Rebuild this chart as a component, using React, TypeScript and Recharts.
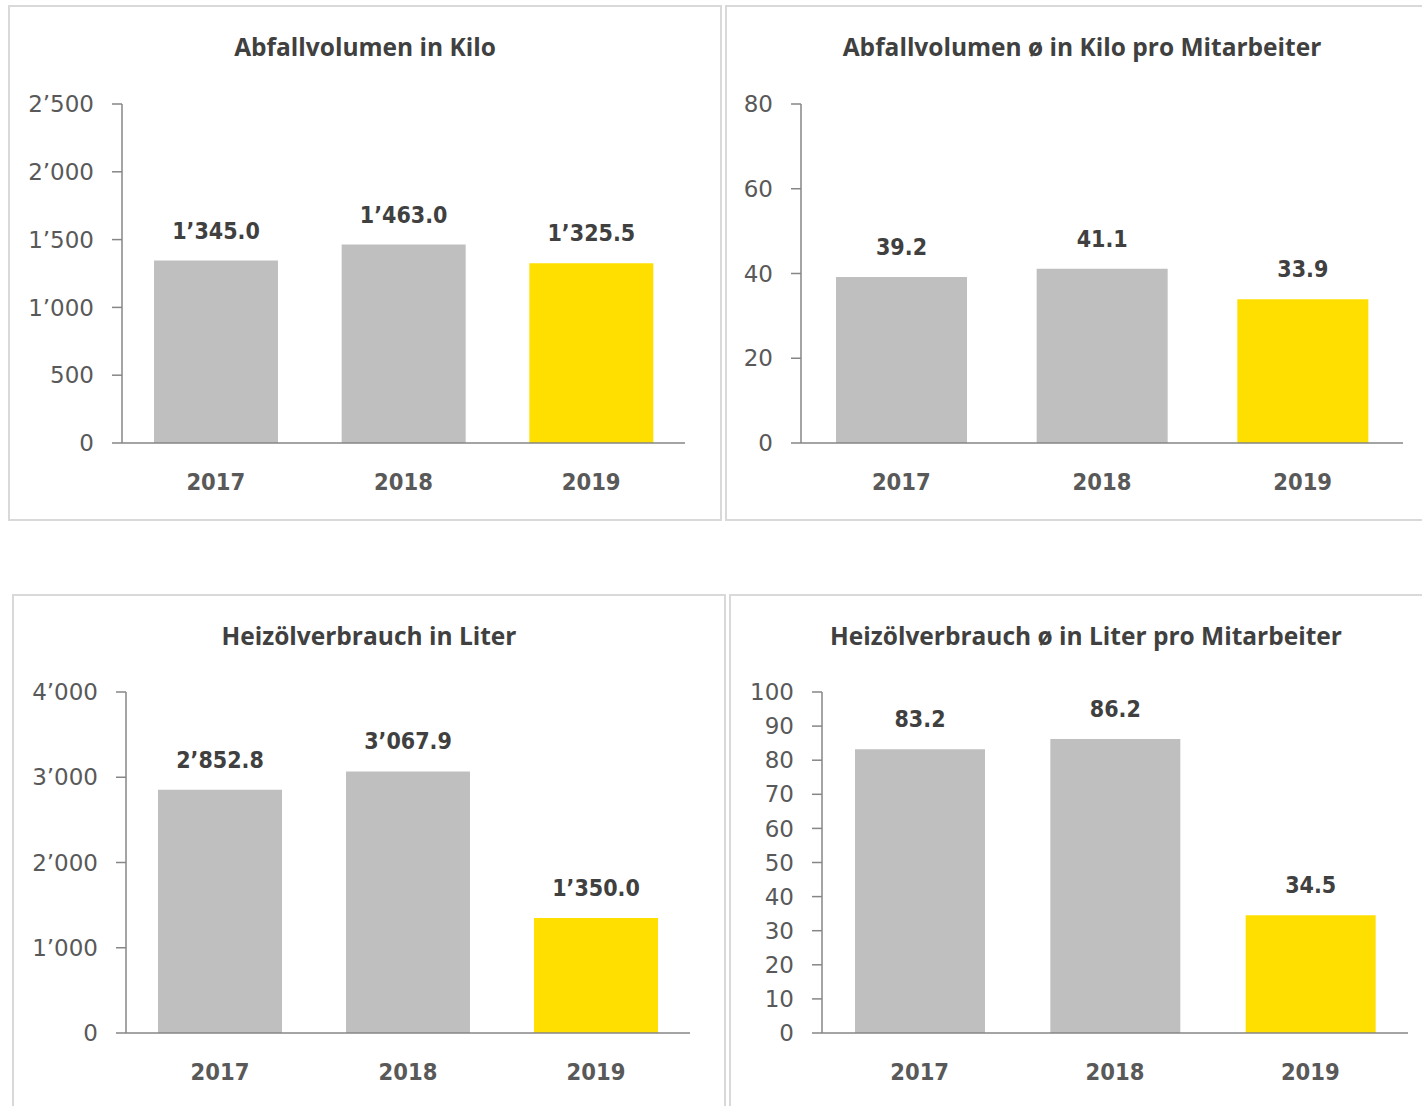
import React from 'react';
import { BarChart, Bar, XAxis, YAxis, LabelList, Cell } from 'recharts';

const years = ['2017', '2018', '2019'];
const abfallKilo = [1345.0, 1463.0, 1325.5];
const abfallProMitarbeiter = [39.2, 41.1, 33.9];
const heizoelLiter = [2852.8, 3067.9, 1350.0];
const heizoelProMitarbeiter = [83.2, 86.2, 34.5];

const abfallKiloTicks = [0, 500, 1000, 1500, 2000, 2500];
const abfallMaTicks = [0, 20, 40, 60, 80];
const heizoelLiterTicks = [0, 1000, 2000, 3000, 4000];
const heizoelMaTicks = [0, 10, 20, 30, 40, 50, 60, 70, 80, 90, 100];

const GREY = '#bfbfbf';
const YELLOW = '#ffdf00';
const AXIS = '#868686';

// Swiss style thousands separator
const withSep = (s: string) => s.replace(/\B(?=(\d{3})+(?!\d))/g, '\u2019');
const fmtTick = (v: number) => withSep(String(v));
const fmtLabel = (v: number) => {
  const [i, d] = v.toFixed(1).split('.');
  return withSep(i) + '.' + d;
};

interface PanelProps {
  title: string;
  values: number[];
  ticks: number[];
  box: { left: number; top: number; width: number; height: number };
  margin: { top: number; right: number; bottom: number; left: number };
  yWidth: number;
  barSize: number;
  titleTop: number;
}

const Panel: React.FC<PanelProps> = ({ title, values, ticks, box, margin, yWidth, barSize, titleTop }) => {
  const data = years.map((y, i) => ({ year: y, value: values[i] }));
  return (
    <div
      style={{
        position: 'absolute',
        left: box.left,
        top: box.top,
        width: box.width,
        height: box.height,
        boxSizing: 'border-box',
        border: '2px solid #d9d9d9',
      }}
    >
      <div
        style={{
          position: 'absolute',
          left: 0,
          right: 0,
          top: titleTop,
          textAlign: 'center',
          fontFamily: '"Open Sans", sans-serif',
          fontWeight: 700,
          fontSize: 24.5,
          lineHeight: '28px',
          color: '#404040',
        }}
      >
        {title}
      </div>
      <div style={{ position: 'absolute', left: -2, top: -2 }}>
        <BarChart width={box.width} height={box.height} data={data} margin={margin}>
          <XAxis
            dataKey="year"
            tickLine={false}
            tickSize={0}
            tickMargin={30}
            height={40}
            axisLine={{ stroke: AXIS, strokeWidth: 1.5 }}
            tick={{ fill: '#595959', fontSize: 23.5, fontWeight: 700, fontFamily: 'DejaVu Sans Condensed' }}
          />
          <YAxis
            width={yWidth}
            domain={[ticks[0], ticks[ticks.length - 1]]}
            ticks={ticks}
            interval={0}
            tickFormatter={fmtTick}
            tickSize={10}
            tickMargin={18}
            axisLine={{ stroke: AXIS, strokeWidth: 1.5 }}
            tickLine={{ stroke: AXIS, strokeWidth: 1.5 }}
            tick={{ fill: '#595959', fontSize: 23, fontFamily: 'DejaVu Sans' }}
          />
          <Bar dataKey="value" barSize={barSize} isAnimationActive={false}>
            {data.map((d, i) => (
              <Cell key={d.year} fill={i === data.length - 1 ? YELLOW : GREY} />
            ))}
            <LabelList
              dataKey="value"
              position="top"
              offset={22}
              formatter={(v: any) => fmtLabel(Number(v))}
              style={{ fill: '#404040', fontSize: 23, fontWeight: 700, fontFamily: 'DejaVu Sans Condensed' }}
            />
          </Bar>
        </BarChart>
      </div>
    </div>
  );
};

const App: React.FC = () => {
  return (
    <div style={{ position: 'absolute', left: 0, top: 0, width: 1422, height: 1106, overflow: 'hidden', background: '#fff' }}>
      <Panel
        title="Abfallvolumen in Kilo"
        values={abfallKilo}
        ticks={abfallKiloTicks}
        box={{ left: 8, top: 5, width: 714, height: 516 }}
        margin={{ top: 99, right: 37, bottom: 38, left: 54 }}
        yWidth={60}
        barSize={124}
        titleTop={26}
      />
      <Panel
        title="Abfallvolumen ø in Kilo pro Mitarbeiter"
        values={abfallProMitarbeiter}
        ticks={abfallMaTicks}
        box={{ left: 725, top: 5, width: 714, height: 516 }}
        margin={{ top: 99, right: 36, bottom: 38, left: 16 }}
        yWidth={60}
        barSize={131}
        titleTop={26}
      />
      <Panel
        title="Heizölverbrauch in Liter"
        values={heizoelLiter}
        ticks={heizoelLiterTicks}
        box={{ left: 12, top: 594, width: 714, height: 520 }}
        margin={{ top: 98, right: 36, bottom: 41, left: 54 }}
        yWidth={60}
        barSize={124}
        titleTop={26}
      />
      <Panel
        title="Heizölverbrauch ø in Liter pro Mitarbeiter"
        values={heizoelProMitarbeiter}
        ticks={heizoelMaTicks}
        box={{ left: 729, top: 594, width: 714, height: 520 }}
        margin={{ top: 98, right: 35, bottom: 41, left: 33 }}
        yWidth={60}
        barSize={130}
        titleTop={26}
      />
    </div>
  );
};

export default App;
